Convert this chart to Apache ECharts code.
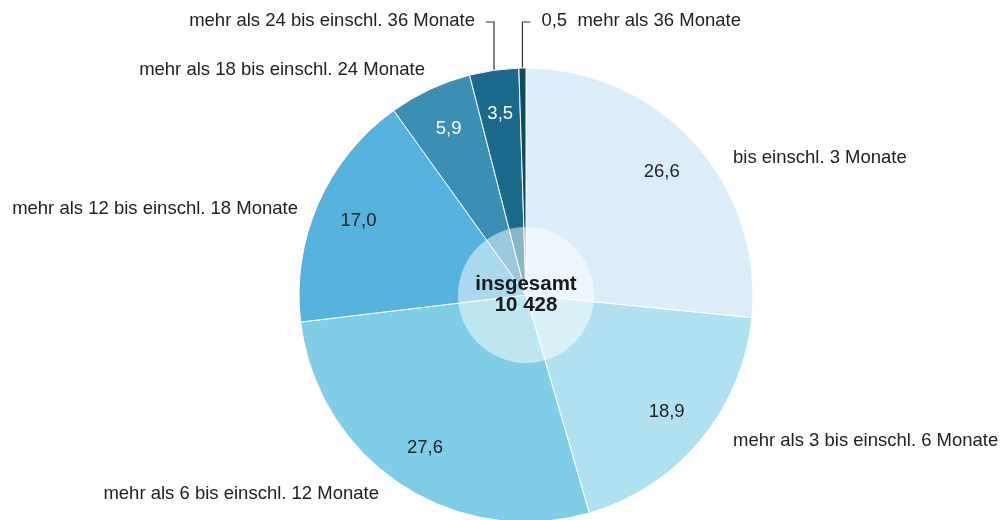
<!DOCTYPE html>
<html>
<head>
<meta charset="utf-8">
<script src="https://cdn.jsdelivr.net/npm/echarts@6/dist/echarts.min.js"></script>
<style>
  html, body { margin: 0; padding: 0; background: #fff; }
  #main { width: 1000px; height: 520px; }
</style>
</head>
<body>
<div id="main"></div>
<script>
// Dauer-Klassen (im Uhrzeigersinn ab 12 Uhr)
const categories = [
  'bis einschl. 3 Monate',
  'mehr als 3 bis einschl. 6 Monate',
  'mehr als 6 bis einschl. 12 Monate',
  'mehr als 12 bis einschl. 18 Monate',
  'mehr als 18 bis einschl. 24 Monate',
  'mehr als 24 bis einschl. 36 Monate',
  'mehr als 36 Monate'
];
// Anteile in %
const shares = [26.6, 18.9, 27.6, 17.0, 5.9, 3.5, 0.5];
const totalLabel = 'insgesamt';
const total = 10428;

const colors = ['#daedf8', '#b1e0f1', '#7fcde7', '#54b2dc', '#3b8fb5', '#1b6a8c', '#0c4a67'];
const valueColors = ['#222', '#222', '#222', '#222', '#fff', '#fff', '#222'];

const font = "'Liberation Sans', Arial, Helvetica, sans-serif";

function fmt(v) {
  return v.toFixed(1).replace('.', ',');
}
function fmtInt(v) {
  return String(v).replace(/\B(?=(\d{3})+(?!\d))/g, ' ');
}

// Positionen der Beschriftungen der großen Segmente
const namePos = [
  { x: 733, y: 158, align: 'left' },
  { x: 733, y: 441, align: 'left' },
  { x: 379, y: 494, align: 'right' },
  { x: 298, y: 209, align: 'right' },
  { x: 425, y: 70, align: 'right' }
];
// kleine Segmente: Beschriftung oben, Linie als Winkel
const topLabelY = 21;
const elbowY = 22;

const chart = echarts.init(document.getElementById('main'), null, { renderer: 'canvas' });

const center = [526, 295];
const radius = 227;

const nameData = categories.map(function (c, i) {
  return {
    name: c,
    value: shares[i],
    itemStyle: { color: colors[i] },
    labelLine: { show: i >= 5 }
  };
});

const valueData = categories.map(function (c, i) {
  return {
    name: c,
    value: shares[i],
    label: { show: i < 6, color: valueColors[i] }
  };
});

const option = {
  animation: false,
  series: [
    {
      // Segmente + Namen außen
      type: 'pie',
      center: center,
      radius: [0, radius],
      startAngle: 90,
      clockwise: true,
      silent: true,
      avoidLabelOverlap: false,
      itemStyle: { borderColor: '#fff', borderWidth: 1 },
      label: {
        show: true,
        position: 'outside',
        width: 340,
        fontFamily: font,
        fontSize: 18.5,
        color: '#222',
        formatter: function (p) {
          if (p.dataIndex === 6) return fmt(p.value) + '  ' + p.name;
          return p.name;
        }
      },
      labelLine: {
        length: 40,
        length2: 8,
        lineStyle: { color: '#333', width: 1.2 }
      },
      labelLayout: function (p) {
        const i = p.dataIndex;
        const pos = namePos[i];
        if (pos) {
          return { x: pos.x, y: pos.y, align: pos.align, verticalAlign: 'middle' };
        }
        const pts = p.labelLinePoints;
        if (!pts) return {};
        const a = pts[0];
        const dir = i === 6 ? 1 : -1;
        return {
          x: a[0] + dir * 19,
          y: topLabelY,
          align: dir > 0 ? 'left' : 'right',
          verticalAlign: 'middle',
          labelLinePoints: [[a[0], a[1]], [a[0], elbowY], [a[0] + dir * 8, elbowY]]
        };
      },
      data: nameData
    },
    {
      // Werte im Segment
      type: 'pie',
      center: center,
      radius: [133, radius],
      startAngle: 90,
      clockwise: true,
      silent: true,
      itemStyle: { color: 'rgba(0,0,0,0)' },
      label: {
        position: 'inside',
        fontFamily: font,
        fontSize: 18.5,
        formatter: function (p) { return fmt(p.value); }
      },
      labelLine: { show: false },
      data: valueData
    },
    {
      // Kreis in der Mitte
      type: 'pie',
      center: center,
      radius: [0, 68],
      silent: true,
      itemStyle: { color: 'rgba(255,255,255,0.5)' },
      label: {
        show: true,
        position: 'center',
        fontFamily: font,
        fontSize: 20.5,
        fontWeight: 'bold',
        lineHeight: 21,
        color: '#1a1a1a',
        formatter: totalLabel + '\n' + fmtInt(total)
      },
      labelLine: { show: false },
      data: [{ name: totalLabel, value: total }]
    }
  ]
};

chart.setOption(option);
</script>
</body>
</html>
